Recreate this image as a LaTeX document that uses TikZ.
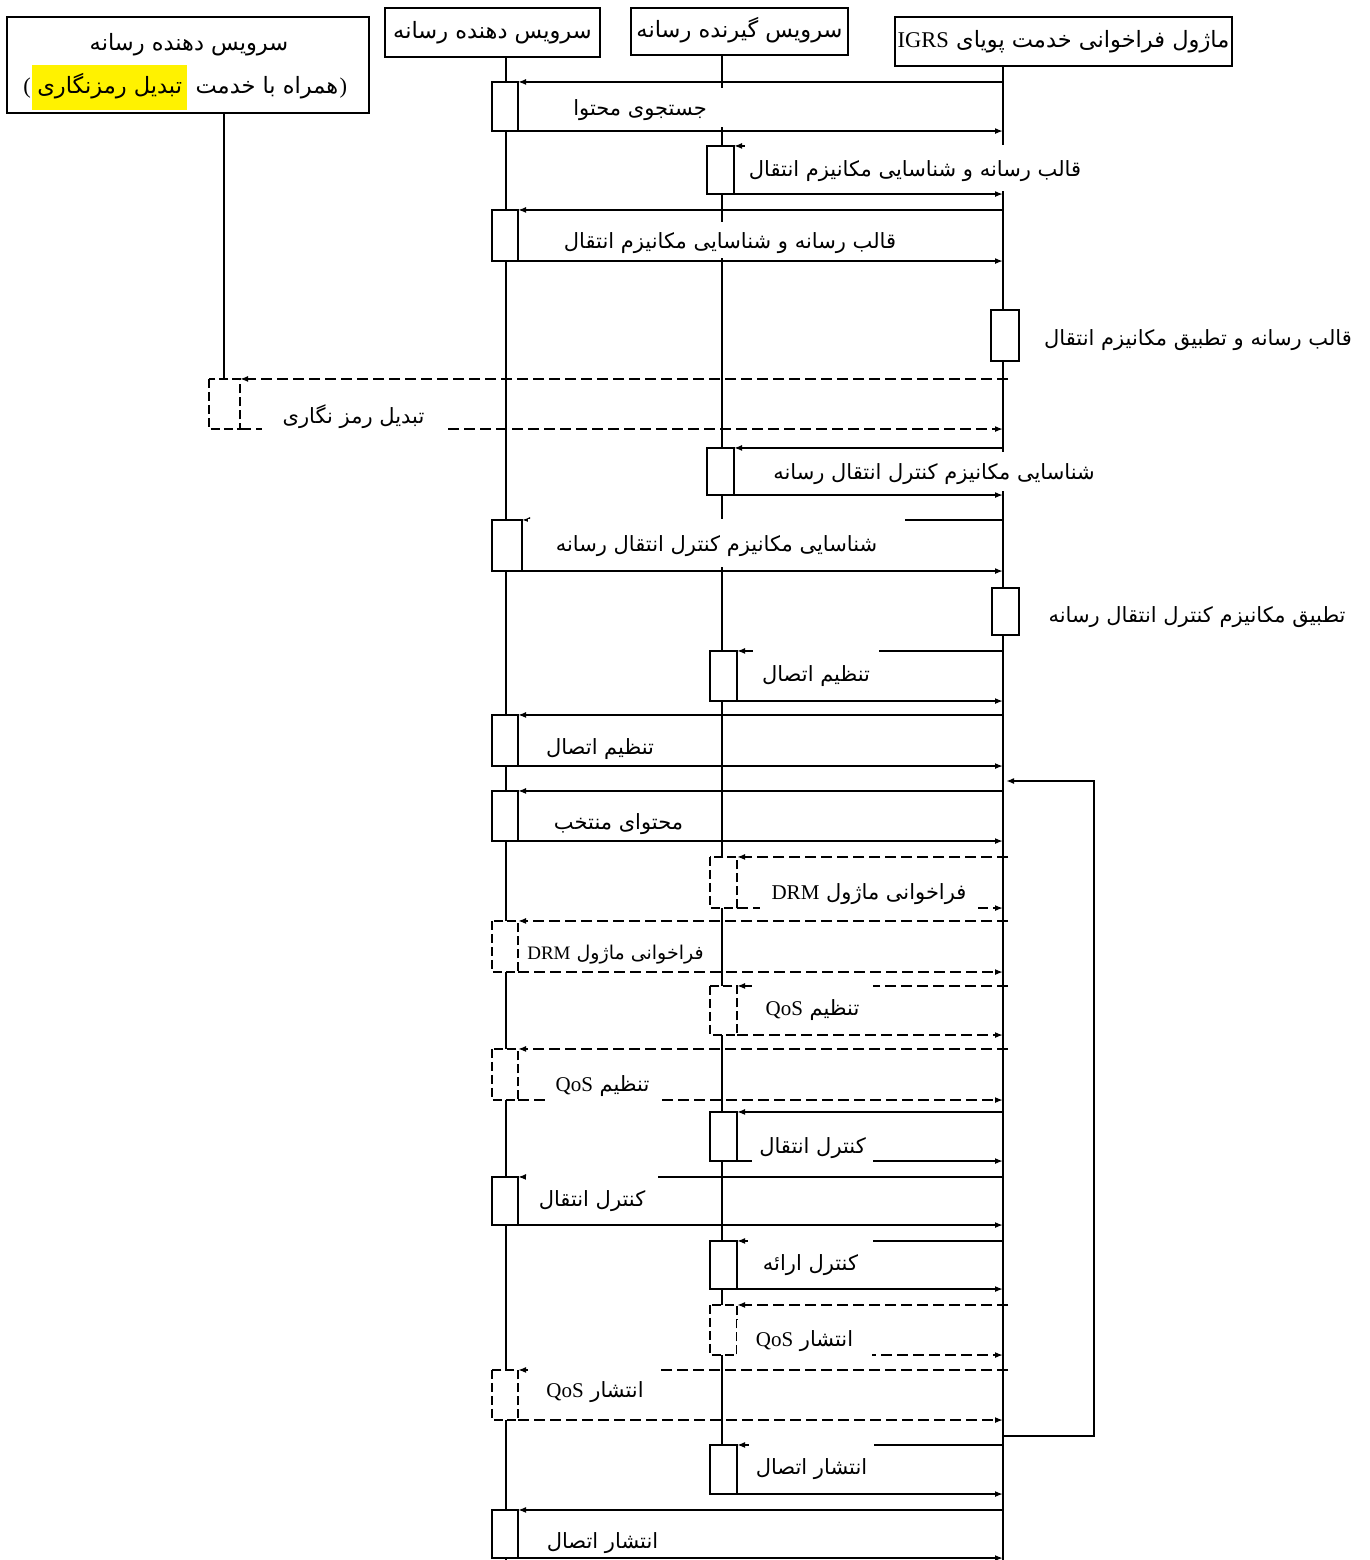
\documentclass[tikz,border=0pt]{standalone}
\usepackage{fontspec}
\setmainfont{Liberation Serif}
\newfontfamily\fa[Script=Arabic]{DejaVu Sans}
\TeXXeTstate=1
\usetikzlibrary{arrows.meta,fit}
\newcommand{\fat}[1]{{\fa\beginR #1\endR}}
\newcommand{\lat}[1]{\beginL{\rmfamily #1}\endL}
% label with white background rectangle (x1,y1)-(x2,y2)
\newcommand{\lab}[7][]{%
  \pgfmathsetmacro\labw{#5-#3}\pgfmathsetmacro\labh{#6-#4}%
  \node[lbl,#1,minimum width=\labw pt,minimum height=\labh pt] (#2) at ({(#3+#5)/2},{(#4+#6)/2}) {#7};}
\begin{document}
\begin{tikzpicture}[x=1pt,y=-1pt,
 life/.style={line width=2.6pt},
 msg/.style={line width=2.1pt,-{Latex[length=8pt,width=6pt]}},
 dmsg/.style={msg,dash pattern=on 11pt off 5pt},
 act/.style={draw,fill=white,line width=2.1pt,inner sep=0pt},
 dact/.style={act,dash pattern=on 9pt off 4pt},
 hfont/.style={font=\fontsize{22.5}{26}\selectfont,text height=13pt,text depth=0pt},
 hdr/.style={draw,fill=white,line width=2.1pt,inner sep=0pt,hfont},
 lbl/.style={fill=white,inner sep=0pt,font=\fontsize{21}{24}\selectfont,text height=16pt,text depth=0pt},
 side/.style={inner sep=0pt,font=\fontsize{21}{24}\selectfont},
]
\useasboundingbox (0,0) rectangle (1369,1560);
\fill[white] (0,0) rectangle (1369,1560);

% lifeline coordinates
\coordinate (L1t) at (224,113); \coordinate (L1b) at (224,380);
\coordinate (L2t) at (506,57);  \coordinate (L2b) at (506,1560);
\coordinate (L3t) at (722,55);  \coordinate (L3b) at (722,1446);
\coordinate (L4t) at (1003,66); \coordinate (L4b) at (1003,1560);

\draw[life] (L1t) -- (L1b);
\draw[life] (L2t) -- (L2b);
\draw[life] (L3t) -- (L3b);
\draw[life] (L4t) -- (L4b);

% headers
\node[hdr,minimum width=362pt,minimum height=96pt] (h1) at (188,65) {};
\node[hfont,inner sep=0pt] (h1a) at (189,44) {\fat{سرویس دهنده رسانه}};
\node[hfont,fill=yellow,inner sep=0pt,minimum width=155pt,minimum height=45pt,anchor=west] (hl) at (32,87.5) {\fat{تبدیل رمزنگاری}};
\node[hfont,inner sep=0pt,anchor=west] (h1b) at ([xshift=8pt]hl.east) {\fat{همراه با خدمت}};
\node[hfont,inner sep=0pt,anchor=west] (pr) at ([xshift=1pt]h1b.east) {)};
\node[hfont,inner sep=0pt,anchor=east] (pl) at ([xshift=-1pt]hl.west) {(};
\node[hdr,minimum width=215pt,minimum height=49pt] (h2) at (492.5,32.5) {\fat{سرویس دهنده رسانه}};
\node[hdr,minimum width=217pt,minimum height=47pt] (h3) at (739.5,31.5) {\fat{سرویس گیرنده رسانه}};
\node[hdr,minimum width=337pt,minimum height=49pt] (h4) at (1063.5,41.5) {\fat{ماژول فراخوانی خدمت پویای \lat{IGRS}}};

% activation boxes (positions)
\node[act,fit={(493,83) (517,130)}] (a1) {};
\node[act,fit={(708,147) (733,193)}] (a2) {};
\node[act,fit={(493,211) (517,260)}] (a3) {};
\node[act,fit={(992,311) (1018,360)}] (a4) {};
\node[dact,fit={(210,380) (239,428)}] (a5) {};
\node[act,fit={(708,449) (733,494)}] (a6) {};
\node[act,fit={(493,521) (521,570)}] (a7) {};
\node[act,fit={(993,589) (1018,634)}] (a8) {};
\node[act,fit={(711,652) (736,700)}] (a9) {};
\node[act,fit={(493,716) (517,765)}] (a10) {};
\node[act,fit={(493,792) (517,840)}] (a11) {};
\node[dact,fit={(711,858) (736,907)}] (a12) {};
\node[dact,fit={(493,922) (517,971)}] (a13) {};
\node[dact,fit={(711,987) (736,1034)}] (a14) {};
\node[dact,fit={(493,1050) (517,1099)}] (a15) {};
\node[act,fit={(711,1113) (736,1160)}] (a16) {};
\node[act,fit={(493,1178) (517,1224)}] (a17) {};
\node[act,fit={(711,1242) (736,1288)}] (a18) {};
\node[dact,fit={(711,1306) (736,1354)}] (a19) {};
\node[dact,fit={(493,1371) (517,1419)}] (a20) {};
\node[act,fit={(711,1446) (736,1493)}] (a21) {};
\node[act,fit={(493,1511) (517,1557)}] (a22) {};

% messages
\foreach \a in {a1,a2,a3,a6,a7,a9,a10,a11,a16,a17,a18,a21,a22}{
  \draw[msg] (\a.north east -| L4t) -- (\a.north east);
  \draw[msg] (\a.south east) -- (\a.south east -| L4t);
}
\foreach \a in {a5,a12,a13,a14,a15,a19,a20}{
  \draw[dmsg] ([xshift=5pt]\a.north east -| L4t) -- (\a.north east);
  \draw[dmsg] (\a.south east) -- (\a.south east -| L4t);
}

% redraw activation boxes on top
\foreach \a in {a1,a2,a3,a4,a6,a7,a8,a9,a10,a11,a16,a17,a18,a21,a22}{
  \draw[line width=2.1pt,fill=white] (\a.north west) rectangle (\a.south east);
}
\foreach \a in {a5,a12,a13,a14,a15,a19,a20}{
  \draw[line width=2.1pt,fill=white,dash pattern=on 9pt off 4pt] (\a.north west) rectangle (\a.south east);
}

% loop back
\coordinate (lp1) at (1003,1436);
\coordinate (lp2) at (1006,781);
\draw[msg] (lp1) -- ++(91,0) |- (lp2);

% labels
\lab{t1}{555}{88}{725}{127}{\fat{جستجوی محتوا}}
\lab{t2}{745}{145}{1085}{191}{\fat{قالب رسانه و شناسایی مکانیزم انتقال}}
\lab{t3}{560}{222}{900}{258}{\fat{قالب رسانه و شناسایی مکانیزم انتقال}}
\node[side] (t4) at (1198,340) {\fat{قالب رسانه و تطبیق مکانیزم انتقال}};
\lab{t5}{262}{398}{445}{432}{\fat{تبدیل رمز نگاری}}
\lab{t6}{768}{452}{1100}{491}{\fat{شناسایی مکانیزم کنترل انتقال رسانه}}
\lab{t7}{528}{519}{905}{567}{\fat{شناسایی مکانیزم کنترل انتقال رسانه}}
\node[side] (t8) at (1197,617) {\fat{تطبیق مکانیزم کنترل انتقال رسانه}};
\lab{t9}{753}{650}{879}{697}{\fat{تنظیم اتصال}}
\lab{t10}{540}{730}{660}{762}{\fat{تنظیم اتصال}}
\lab{t11}{545}{805}{692}{838}{\fat{محتوای منتخب}}
\lab{t12}{760}{872}{978}{910}{\fat{فراخوانی ماژول \lat{DRM}}}
\lab[font=\fontsize{19}{22}\selectfont]{t13}{528}{935}{703}{968}{\fat{فراخوانی ماژول \lat{DRM}}}
\lab{t14}{752}{985}{873}{1030}{\fat{تنظیم \lat{QoS}}}
\lab{t15}{548}{1065}{657}{1102}{\fat{تنظیم \lat{QoS}}}
\lab{t16}{752}{1128}{873}{1163}{\fat{کنترل انتقال}}
\lab{t17}{526}{1176}{658}{1221}{\fat{کنترل انتقال}}
\lab{t18}{748}{1240}{873}{1285}{\fat{کنترل ارائه}}
\lab{t19}{737}{1320}{872}{1357}{\fat{انتشار \lat{QoS}}}
\lab{t20}{533}{1369}{657}{1410}{\fat{انتشار \lat{QoS}}}
\lab{t21}{749}{1444}{874}{1488}{\fat{انتشار اتصال}}
\lab{t22}{545}{1525}{660}{1556}{\fat{انتشار اتصال}}
\end{tikzpicture}
\end{document}
